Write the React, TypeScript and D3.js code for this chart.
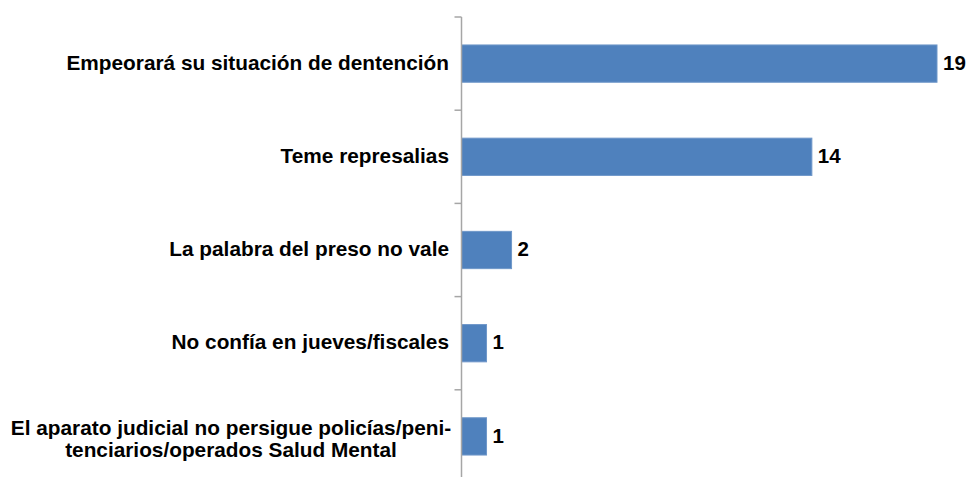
import React, { useEffect, useRef } from 'react';
import * as d3 from 'd3';

const categories = [
  'Empeorará su situación de dentención',
  'Teme represalias',
  'La palabra del preso no vale',
  'No confía en jueves/fiscales',
  'El aparato judicial no persigue policías/peni-\ntenciarios/operados Salud Mental',
];
const values = [19, 14, 2, 1, 1];

const W = 968;
const H = 477;
const FONT = '"Liberation Sans", Arial, sans-serif';

export default function App() {
  const svgRef = useRef<SVGSVGElement>(null);

  useEffect(() => {
    document.body.style.margin = '0';
    const svg = d3.select(svgRef.current);
    svg.selectAll('*').remove();

    const axisX = 461.5;
    const x = d3.scaleLinear().domain([0, 19]).range([axisX, 937]);
    const y = d3.scaleBand<string>()
      .domain(categories)
      .range([17, 483])
      .paddingInner(0.6)
      .paddingOuter(0.3);
    const step = y.step();

    // bars
    svg.selectAll('rect.bar')
      .data(categories)
      .enter()
      .append('rect')
      .attr('class', 'bar')
      .attr('x', axisX)
      .attr('y', d => y(d)!)
      .attr('width', (d, i) => x(values[i]) - axisX)
      .attr('height', y.bandwidth())
      .attr('fill', '#4F81BD')
      .attr('stroke', '#6F97C9')
      .attr('stroke-width', 1);

    // axis line + ticks at category boundaries
    const g = svg.append('g').attr('stroke', '#A6A6A6').attr('stroke-width', 1.5);
    g.append('line').attr('x1', axisX).attr('x2', axisX).attr('y1', 17).attr('y2', H);
    d3.range(categories.length + 1).forEach(i => {
      const ty = 17 + i * step;
      if (ty > H) return;
      g.append('line').attr('x1', axisX - 7).attr('x2', axisX).attr('y1', ty).attr('y2', ty);
    });

    // category labels
    categories.forEach((c, i) => {
      const cy = y(c)! + y.bandwidth() / 2;
      const lines = c.split('\n');
      const t = svg.append('text')
        .attr('font-family', FONT)
        .attr('font-weight', 'bold')
        .attr('font-size', 20.8)
        .attr('fill', '#000');
      if (lines.length === 1) {
        t.attr('x', 449).attr('y', cy - 1).attr('dy', '0.35em').attr('text-anchor', 'end').text(c);
      } else {
        t.attr('text-anchor', 'middle');
        lines.forEach((l, j) => {
          t.append('tspan')
            .attr('x', 231)
            .attr('y', cy + (j - (lines.length - 1) / 2) * 22 + 2)
            .attr('dy', '0.35em')
            .text(l);
        });
      }
    });

    // value labels
    svg.selectAll('text.val')
      .data(categories)
      .enter()
      .append('text')
      .attr('class', 'val')
      .attr('x', (d, i) => x(values[i]) + 6)
      .attr('y', d => y(d)! + y.bandwidth() / 2 - 1)
      .attr('dy', '0.35em')
      .attr('font-family', FONT)
      .attr('font-weight', 'bold')
      .attr('font-size', 20.5)
      .text((d, i) => values[i]);
  }, []);

  return (
    <svg
      ref={svgRef}
      width={W}
      height={H}
      style={{ display: 'block', background: '#fff' }}
    />
  );
}
